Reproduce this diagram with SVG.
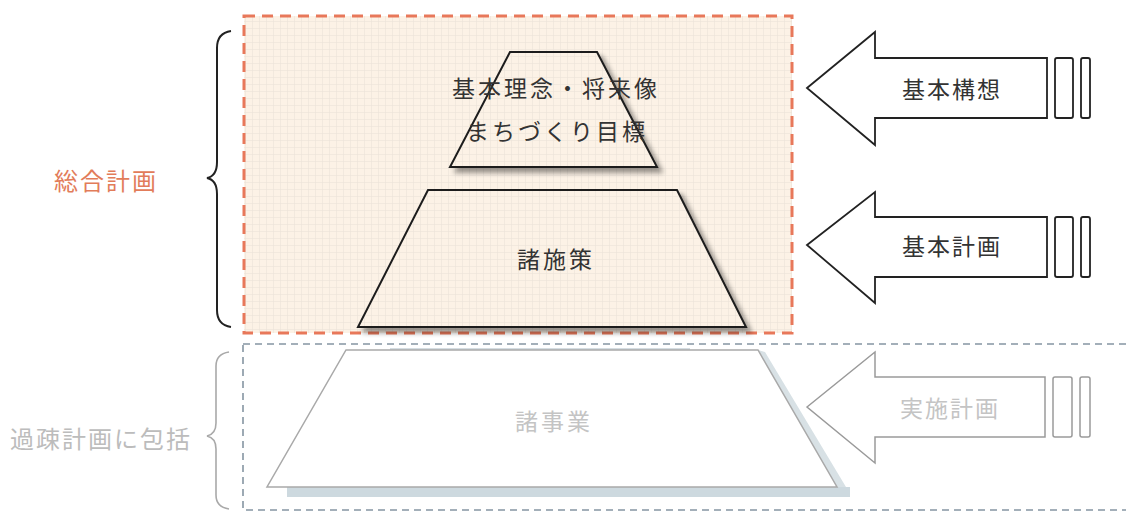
<svg xmlns="http://www.w3.org/2000/svg" width="1126" height="513" viewBox="0 0 1126 513">
<defs>
<pattern id="grid" width="7" height="7" patternUnits="userSpaceOnUse">
<rect width="7" height="7" fill="#fcf2e6"/>
<path d="M0 0.5H7M0.5 0V7" stroke="#ebe3d9" stroke-width="0.6"/>
</pattern>
<filter id="sh" x="-10%" y="-10%" width="130%" height="130%">
<feGaussianBlur in="SourceAlpha" stdDeviation="2.5"/>
<feOffset dx="5" dy="5" result="b"/>
<feComponentTransfer><feFuncA type="linear" slope="0.4"/></feComponentTransfer>
<feMerge><feMergeNode/><feMergeNode in="SourceGraphic"/></feMerge>
</filter>
<style>
.t{font-family:"Noto Sans CJK JP","Noto Sans CJK SC",sans-serif;text-anchor:middle;dominant-baseline:central}
.dk{fill:#333333;font-size:23px}
.lt{fill:#c4c4c4;font-size:23px}
.arw{fill:#ffffff;stroke:#222222;stroke-width:1.8;stroke-linejoin:miter}
.arwg{fill:#ffffff;stroke:#9a9a9a;stroke-width:1.5}
.trap{fill:url(#grid);stroke:#1e1e1e;stroke-width:2}
.brace{fill:none;stroke:#222;stroke-width:2}
</style>
</defs>
<rect width="1126" height="513" fill="#ffffff"/>

<g id="sogo-box">
<rect x="244" y="16" width="548" height="317" fill="url(#grid)"/>
<rect x="244" y="16" width="548" height="317" fill="none" stroke="#e8785a" stroke-width="3" stroke-dasharray="11 7"/>
</g>

<g id="kaso-box">
<rect x="243" y="344" width="900" height="166" fill="none" stroke="#8595a2" stroke-width="1.6" stroke-dasharray="7 5"/>
<line x1="390" y1="349" x2="690" y2="349" stroke="#d5dde2" stroke-width="2"/>
</g>

<g id="brace-sogo">
<path class="brace" d="M231 31 Q217 33 217 48 L217 162 Q217 176 207 178 Q217 180 217 194 L217 310 Q217 325 231 327"/>
<text class="t" x="106" y="179" fill="#e27c5a" font-size="24" letter-spacing="2">総合計画</text>
</g>

<g id="brace-kaso">
<path class="brace" style="stroke:#a9a9a9;stroke-width:1.6" d="M229 352 Q216 354 216 366 L216 423 Q216 434 207 436 Q216 438 216 449 L216 495 Q216 507 229 509"/>
<text class="t" x="101" y="437" fill="#bcbcbc" font-size="24" letter-spacing="2">過疎計画に包括</text>
</g>

<g id="node-top">
<polygon class="trap" filter="url(#sh)" points="510,52 597,52 657,167 450,167"/>
<text class="t dk" x="556" y="87" letter-spacing="3">基本理念・将来像</text>
<text class="t dk" x="557" y="130" letter-spacing="3">まちづくり目標</text>
</g>

<g id="node-mid">
<polygon class="trap" filter="url(#sh)" points="428,190 677,190 746,327 358,327"/>
<text class="t dk" x="556" y="258" letter-spacing="3">諸施策</text>
</g>

<g id="node-bottom">
<rect x="287" y="487" width="563" height="10" fill="#cdd9df"/>
<polygon points="758,350 837,487 846,487 765,352" fill="#d8e1e5"/>
<polygon points="346,350 758,350 837,487 267,487" fill="#ffffff" stroke="#a9a9a9" stroke-width="1.5"/>
<text class="t lt" x="554" y="420" letter-spacing="3">諸事業</text>
</g>

<g id="connectors">
<g id="arrow-kihonkoso">
<path class="arw" d="M807 88 L875 32 L875 58 L1047 58 L1047 118 L875 118 L875 145 Z"/>
<rect class="arw" x="1055" y="58" width="18" height="60" rx="2"/>
<rect class="arw" x="1081" y="58" width="9" height="60" rx="2"/>
<text class="t dk" x="952" y="88" letter-spacing="2">基本構想</text>
</g>
<g id="arrow-kihonkeikaku">
<path class="arw" d="M807 245 L875 192 L875 217 L1047 217 L1047 277 L875 277 L875 303 Z"/>
<rect class="arw" x="1055" y="217" width="18" height="60" rx="2"/>
<rect class="arw" x="1081" y="217" width="9" height="60" rx="2"/>
<text class="t dk" x="952" y="245" letter-spacing="2">基本計画</text>
</g>
<g id="arrow-jisshi">
<path class="arwg" d="M807 407 L875 352 L875 377 L1045 377 L1045 437 L875 437 L875 463 Z"/>
<rect class="arwg" x="1053" y="377" width="19" height="60" rx="2"/>
<rect class="arwg" x="1080" y="377" width="10" height="60" rx="2"/>
<text class="t lt" x="950" y="407" letter-spacing="2">実施計画</text>
</g>
</g>
</svg>
